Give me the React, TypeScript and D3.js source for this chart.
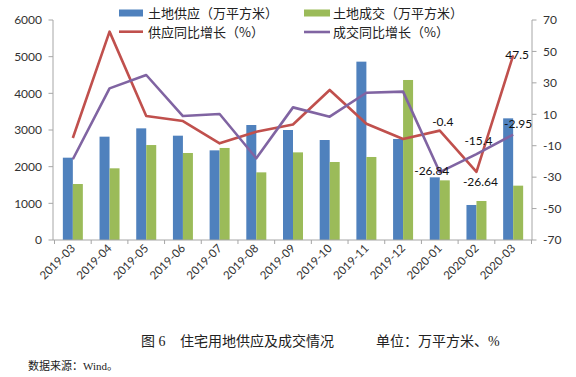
import React from "react";
import * as d3 from "d3";

const months = ["2019-03","2019-04","2019-05","2019-06","2019-07","2019-08","2019-09","2019-10","2019-11","2019-12","2020-01","2020-02","2020-03"];
const supplyArea = [2245, 2818, 3045, 2845, 2445, 3136, 3000, 2727, 4864, 2755, 1709, 955, 3318];
const dealArea = [1527, 1955, 2590, 2373, 2510, 1845, 2390, 2127, 2264, 4364, 1627, 1064, 1482];
const supplyYoY = [-5.1, 62.6, 8.9, 5.7, -8.5, -1.1, 3.5, 25.5, 4, -5.7, -0.4, -26.64, 47.5];
const dealYoY = [-18.6, 26.5, 35, 8.9, 10.2, -18, 14.4, 8.5, 23.7, 24.4, -26.84, -15.4, -2.95];
const leftTicks = [0, 1000, 2000, 3000, 4000, 5000, 6000];
const rightTicks = [-70, -50, -30, -10, 10, 30, 50, 70];

const legendItems = ["土地供应（万平方米）", "土地成交（万平方米）", "供应同比增长（%）", "成交同比增长（%）"];

const C_BLUE = "#4F81BD";
const C_GREEN = "#9BBB59";
const C_RED = "#C0504D";
const C_PURPLE = "#8064A2";
const AXIS = "#A6A6A6";
const NUMFONT = "Lato, 'Open Sans', sans-serif";
const CJK = "'Noto Sans CJK SC', sans-serif";
const SERIF = "'Liberation Serif', 'Noto Sans CJK SC', serif";

export default function App() {
  const W = 576, H = 377;
  const x = d3.scaleBand<string>().domain(months).range([54.5, 531.5]).padding(0);
  const yL = d3.scaleLinear().domain([0, 6000]).range([240, 20]);
  const yR = d3.scaleLinear().domain([-70, 70]).range([240, 20]);
  const cx = (m: string) => (x(m) as number) + x.bandwidth() / 2;
  const barW = 10;

  const line = d3.line<number>().x((_, i) => cx(months[i])).y((v) => yR(v));

  // label annotations: series, index, dx, dy
  const labels: { s: "supply" | "deal"; i: number; dx: number; dy: number }[] = [
    { s: "supply", i: 12, dx: 4, dy: -1 },
    { s: "supply", i: 10, dx: 3, dy: -9 },
    { s: "supply", i: 11, dx: 4, dy: 10 },
    { s: "deal", i: 10, dx: -8, dy: -1 },
    { s: "deal", i: 11, dx: 2, dy: -14 },
    { s: "deal", i: 12, dx: 5, dy: -11 },
  ];

  return (
    <svg width={W} height={H} style={{ position: "absolute", left: 0, top: 0, background: "#fff" }}>
      {/* bars */}
      {months.map((m, i) => (
        <g key={m}>
          <rect x={cx(m) - barW} y={yL(supplyArea[i])} width={barW} height={240 - yL(supplyArea[i])} fill={C_BLUE} />
          <rect x={cx(m)} y={yL(dealArea[i])} width={barW} height={240 - yL(dealArea[i])} fill={C_GREEN} />
        </g>
      ))}
      {/* lines */}
      <path d={line(supplyYoY) || ""} fill="none" stroke={C_RED} strokeWidth={2.6} strokeLinejoin="round" />
      <path d={line(dealYoY) || ""} fill="none" stroke={C_PURPLE} strokeWidth={2.6} strokeLinejoin="round" />

      {/* left axis */}
      <line x1={53} x2={53} y1={20} y2={240} stroke={AXIS} strokeWidth={1} />
      {leftTicks.map((t) => (
        <g key={t}>
          <line x1={48.5} x2={53} y1={yL(t)} y2={yL(t)} stroke={AXIS} />
          <text x={42} y={yL(t)} dy="0.36em" textAnchor="end" fontFamily={NUMFONT} fontSize={12} fill="#333">{t}</text>
        </g>
      ))}
      {/* right axis */}
      <line x1={532} x2={532} y1={20} y2={240} stroke={AXIS} strokeWidth={1} />
      {rightTicks.map((t) => (
        <g key={t}>
          <line x1={532} x2={536.5} y1={yR(t)} y2={yR(t)} stroke={AXIS} />
          <text x={543} y={yR(t)} dy="0.36em" textAnchor="start" fontFamily={NUMFONT} fontSize={12} fill="#333">{t}</text>
        </g>
      ))}
      {/* x axis */}
      <line x1={53} x2={532} y1={240} y2={240} stroke={AXIS} strokeWidth={1} />
      {months.map((m) => (
        <line key={"t" + m} x1={x(m) as number} x2={x(m) as number} y1={240} y2={244} stroke={AXIS} />
      ))}
      <line x1={531.5} x2={531.5} y1={240} y2={244} stroke={AXIS} />
      {months.map((m) => (
        <text key={"l" + m} transform={`translate(${cx(m) + 3},${249}) rotate(-45)`} textAnchor="end" fontFamily={NUMFONT} fontSize={11.5} fill="#333">{m}</text>
      ))}

      {/* data labels */}
      {labels.map((l, k) => {
        const v = l.s === "supply" ? supplyYoY[l.i] : dealYoY[l.i];
        return (
          <text key={"dl" + k} x={cx(months[l.i]) + l.dx} y={yR(v) + l.dy} dy="0.36em" textAnchor="middle" fontFamily={NUMFONT} fontSize={12} fill="#111">{v}</text>
        );
      })}

      {/* legend */}
      <rect x={119} y={9.5} width={24} height={7} fill={C_BLUE} />
      <text x={148} y={13} dy="0.36em" fontFamily={CJK} fontSize={13} fill="#222">{legendItems[0]}</text>
      <rect x={304} y={9.5} width={26} height={7} fill={C_GREEN} />
      <text x={333} y={13} dy="0.36em" fontFamily={CJK} fontSize={13} fill="#222">{legendItems[1]}</text>
      <line x1={119} x2={143} y1={31.7} y2={31.7} stroke={C_RED} strokeWidth={2.6} />
      <text x={148} y={32} dy="0.36em" fontFamily={CJK} fontSize={13} fill="#222">{legendItems[2]}</text>
      <line x1={304} x2={330} y1={32} y2={32} stroke={C_PURPLE} strokeWidth={2.6} />
      <text x={333} y={32} dy="0.36em" fontFamily={CJK} fontSize={13} fill="#222">{legendItems[3]}</text>

      {/* caption */}
      <text x={141} y={341} dy="0.36em" fontFamily={SERIF} fontSize={14} fill="#222">图 6</text>
      <text x={180} y={341} dy="0.36em" fontFamily={SERIF} fontSize={14} fill="#222">住宅用地供应及成交情况</text>
      <text x={376} y={341} dy="0.36em" fontFamily={SERIF} fontSize={14} fill="#222">单位：万平方米、%</text>
      <text x={28} y={366} dy="0.36em" fontFamily={SERIF} fontSize={11} fill="#222">数据来源：Wind。</text>
    </svg>
  );
}
